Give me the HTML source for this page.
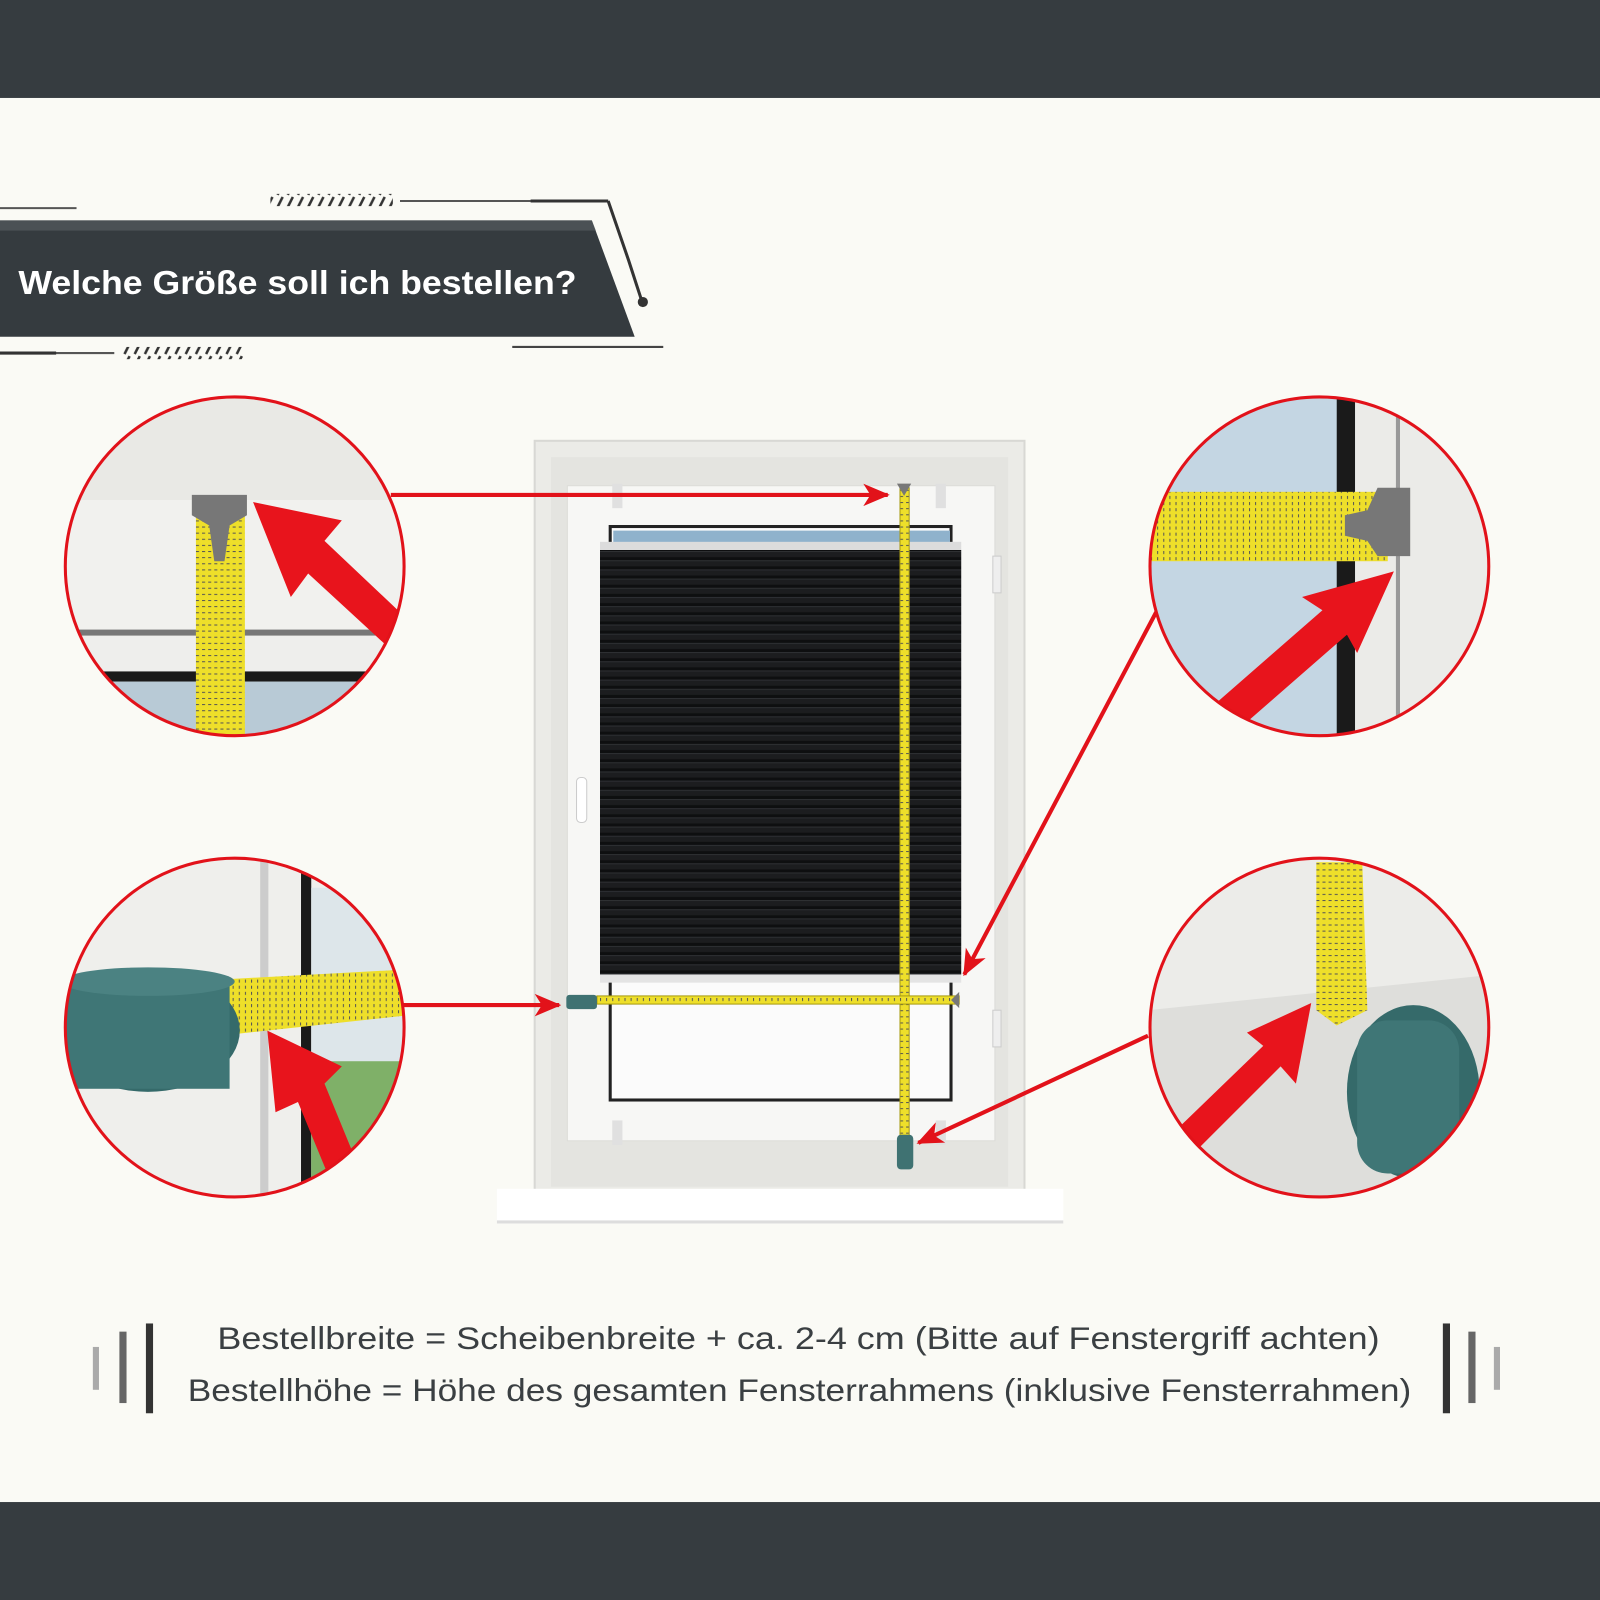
<!DOCTYPE html>
<html><head><meta charset="utf-8"><style>
html,body{margin:0;padding:0;background:#fafaf5;}
svg{display:block;}
</style></head><body>
<svg width="1600" height="1600" viewBox="0 0 1568 1568" xmlns="http://www.w3.org/2000/svg">
<defs>
<pattern id="pleat" width="10" height="9" patternUnits="userSpaceOnUse">
<rect width="10" height="9" fill="#1c1d1f"/><rect y="6" width="10" height="3" fill="#0e0f10"/><rect y="0" width="10" height="1" fill="#2e3033"/>
</pattern>
<pattern id="slash" width="10" height="12" patternUnits="userSpaceOnUse">
<line x1="2" y1="11" x2="7" y2="1" stroke="#333" stroke-width="2.5"/>
</pattern>
<pattern id="tick" width="6" height="6" patternUnits="userSpaceOnUse">
<rect width="6" height="6" fill="#eedf2a"/><rect x="0" y="0" width="1" height="3" fill="#555"/>
</pattern>
<pattern id="tickv" width="6" height="6" patternUnits="userSpaceOnUse">
<rect width="6" height="6" fill="#eedf2a"/><rect x="0" y="0" width="3" height="1" fill="#555"/>
</pattern>
<marker id="ah" markerWidth="26" markerHeight="22" refX="24" refY="11" orient="auto" markerUnits="userSpaceOnUse" viewBox="0 0 26 22">
<path d="M0,0 L26,11 L0,22 L7,11 z" fill="#e2121a"/>
</marker>
<clipPath id="c1"><circle cx="230" cy="555" r="166"/></clipPath>
<clipPath id="c2"><circle cx="1293" cy="555" r="166"/></clipPath>
<clipPath id="c3"><circle cx="230" cy="1007" r="166"/></clipPath>
<clipPath id="c4"><circle cx="1293" cy="1007" r="166"/></clipPath>
</defs>
<rect width="1568" height="1568" fill="#fafaf5"/>
<rect width="1568" height="96" fill="#363c40"/>
<rect y="1472" width="1568" height="96" fill="#363c40"/>

<!-- title banner -->
<polygon points="0,216 580,216 622,330 0,330" fill="#353b3f"/>
<polygon points="0,216 580,216 584,226 0,226" fill="#5a6064" opacity="0.6"/>
<text x="18" y="288" font-family="'Liberation Sans',sans-serif" font-weight="bold" font-size="33" fill="#fff" textLength="547" lengthAdjust="spacingAndGlyphs">Welche Größe soll ich bestellen?</text>
<line x1="0" y1="204" x2="75" y2="204" stroke="#555" stroke-width="2"/>
<line x1="392" y1="197" x2="596" y2="197" stroke="#555" stroke-width="2"/>
<line x1="520" y1="197" x2="596" y2="197" stroke="#333" stroke-width="3"/>
<polyline points="596,197 616,255 628,292" fill="none" stroke="#333" stroke-width="3"/>
<circle cx="630" cy="296" r="5" fill="#333"/>
<rect x="265" y="190" width="120" height="12" fill="url(#slash)"/>
<rect x="120" y="340" width="120" height="12" fill="url(#slash)"/>
<line x1="0" y1="346" x2="112" y2="346" stroke="#555" stroke-width="2"/>
<line x1="0" y1="346" x2="55" y2="346" stroke="#333" stroke-width="3"/>
<line x1="502" y1="340" x2="650" y2="340" stroke="#444" stroke-width="2"/>

<!-- window -->
<rect x="524" y="432" width="480" height="735" fill="#ebebe7" stroke="#d8d8d4" stroke-width="2"/>
<rect x="540" y="448" width="448" height="715" fill="#e4e4e0"/>
<rect x="556" y="476" width="419" height="642" fill="#f7f7f5" stroke="#dcdcd8"/>
<rect x="600" y="474" width="10" height="24" fill="#e0e0e0"/>
<rect x="917" y="474" width="10" height="24" fill="#e0e0e0"/>
<rect x="600" y="1098" width="10" height="24" fill="#e0e0e0"/>
<rect x="917" y="1098" width="10" height="24" fill="#e0e0e0"/>
<rect x="598" y="516" width="334" height="562" fill="#fbfbfb" stroke="#222" stroke-width="3"/>
<rect x="601" y="520" width="330" height="14" fill="#8fb2cc"/>
<rect x="588" y="531" width="354" height="8" fill="#dcdcdc"/>
<rect x="588" y="539" width="354" height="416" fill="url(#pleat)"/>
<rect x="588" y="955" width="354" height="8" fill="#e4e4e4"/>
<rect x="565" y="762" width="10" height="44" rx="4" fill="#fff" stroke="#ccc"/>
<rect x="973" y="545" width="8" height="36" fill="#eee" stroke="#ccc"/>
<rect x="973" y="990" width="8" height="36" fill="#eee" stroke="#ccc"/>
<rect x="487" y="1165" width="555" height="33" fill="#fff"/>
<rect x="487" y="1196" width="555" height="3" fill="#ddd"/>
<!-- tapes -->
<rect x="882" y="478" width="9" height="640" fill="url(#tickv)" stroke="#a89b10" stroke-width="1"/>
<rect x="585" y="976" width="355" height="8" fill="url(#tick)" stroke="#a89b10" stroke-width="1"/>
<polygon points="879,474 893,474 886,486" fill="#777"/>
<polygon points="940,972 940,988 932,980" fill="#777"/>
<rect x="555" y="975" width="30" height="14" rx="3" fill="#3f7272"/>
<rect x="879" y="1112" width="16" height="34" rx="4" fill="#3f7272"/>

<!-- red arrows -->
<g stroke="#e2121a" stroke-width="4" fill="none">
<line x1="383" y1="485" x2="870" y2="485" marker-end="url(#ah)"/>
<line x1="1133" y1="600" x2="945" y2="955" marker-end="url(#ah)"/>
<line x1="395" y1="985" x2="548" y2="985" marker-end="url(#ah)"/>
<line x1="1125" y1="1015" x2="900" y2="1120" marker-end="url(#ah)"/>
</g>

<!-- circle 1 -->
<g clip-path="url(#c1)">
<rect x="60" y="385" width="340" height="340" fill="#f1f1ee"/>
<rect x="60" y="385" width="340" height="105" fill="#e9e9e5"/>
<rect x="60" y="617" width="340" height="6" fill="#777"/>
<rect x="60" y="623" width="340" height="35" fill="#eeeeec"/>
<rect x="60" y="658" width="340" height="10" fill="#1a1a1a"/>
<rect x="60" y="668" width="340" height="60" fill="#b8cad6"/>
<rect x="192" y="500" width="48" height="225" fill="url(#tickv)"/>
<polygon points="188,485 242,485 242,505 225,515 220,550 210,550 205,515 188,505" fill="#777"/>
<polygon points="248,492 335,510 318,530 392,600 378,632 302,562 285,585" fill="#e8141c"/>
</g>
<circle cx="230" cy="555" r="166" fill="none" stroke="#e2121a" stroke-width="3"/>

<!-- circle 2 -->
<g clip-path="url(#c2)">
<rect x="1125" y="385" width="340" height="340" fill="#c4d6e3"/>
<rect x="1310" y="385" width="18" height="340" fill="#1a1a1a"/>
<rect x="1328" y="385" width="140" height="340" fill="#ebebe8"/>
<rect x="1368" y="385" width="4" height="340" fill="#999"/>
<rect x="1125" y="482" width="235" height="68" fill="url(#tick)"/>
<polygon points="1350,478 1382,478 1382,545 1350,545 1340,530 1318,525 1318,505 1340,500" fill="#777"/>
<polygon points="1366,560 1330,640 1320,622 1210,718 1185,695 1296,598 1276,585" fill="#e8141c"/>
</g>
<circle cx="1293" cy="555" r="166" fill="none" stroke="#e2121a" stroke-width="3"/>

<!-- circle 3 -->
<g clip-path="url(#c3)">
<rect x="60" y="838" width="340" height="340" fill="#efefec"/>
<rect x="255" y="838" width="8" height="340" fill="#ccc"/>
<rect x="295" y="838" width="10" height="340" fill="#1a1a1a"/>
<rect x="305" y="870" width="100" height="200" fill="#dde6ea"/>
<rect x="305" y="1040" width="100" height="120" fill="#7fb068"/>
<polygon points="215,960 400,950 400,995 215,1015" fill="url(#tick)"/>
<ellipse cx="145" cy="1010" rx="90" ry="60" fill="#356a6a"/>
<rect x="60" y="965" width="165" height="102" fill="#3f7676"/>
<ellipse cx="145" cy="962" rx="85" ry="14" fill="#4b8282"/>
<polygon points="262,1010 335,1045 318,1062 350,1140 325,1160 292,1080 270,1090" fill="#e8141c"/>
</g>
<circle cx="230" cy="1007" r="166" fill="none" stroke="#e2121a" stroke-width="3"/>

<!-- circle 4 -->
<g clip-path="url(#c4)">
<rect x="1125" y="838" width="340" height="340" fill="#ecece9"/>
<polygon points="1125,990 1465,955 1465,1178 1125,1178" fill="#dededb"/>
<polygon points="1290,845 1335,845 1340,990 1310,1005 1290,990" fill="url(#tickv)"/>
<ellipse cx="1385" cy="1070" rx="65" ry="85" fill="#356a6a"/>
<rect x="1330" y="1000" width="100" height="150" rx="30" fill="#3f7676"/>
<polygon points="1285,983 1270,1062 1255,1045 1170,1130 1150,1110 1238,1025 1222,1012" fill="#e8141c"/>
</g>
<circle cx="1293" cy="1007" r="166" fill="none" stroke="#e2121a" stroke-width="3"/>

<!-- bottom text -->
<g font-family="'Liberation Sans',sans-serif" font-size="31" fill="#3a3f42">
<text x="213" y="1322" textLength="1139" lengthAdjust="spacingAndGlyphs">Bestellbreite = Scheibenbreite + ca. 2-4 cm (Bitte auf Fenstergriff achten)</text>
<text x="184" y="1373" textLength="1199" lengthAdjust="spacingAndGlyphs">Bestellhöhe = Höhe des gesamten Fensterrahmens (inklusive Fensterrahmen)</text>
</g>
<rect x="91" y="1320" width="6" height="42" fill="#aaa"/>
<rect x="117" y="1305" width="7" height="70" fill="#666"/>
<rect x="143" y="1297" width="7" height="88" fill="#333"/>
<rect x="1414" y="1297" width="7" height="88" fill="#333"/>
<rect x="1439" y="1305" width="7" height="70" fill="#666"/>
<rect x="1464" y="1320" width="6" height="42" fill="#aaa"/>
</svg>
</body></html>
